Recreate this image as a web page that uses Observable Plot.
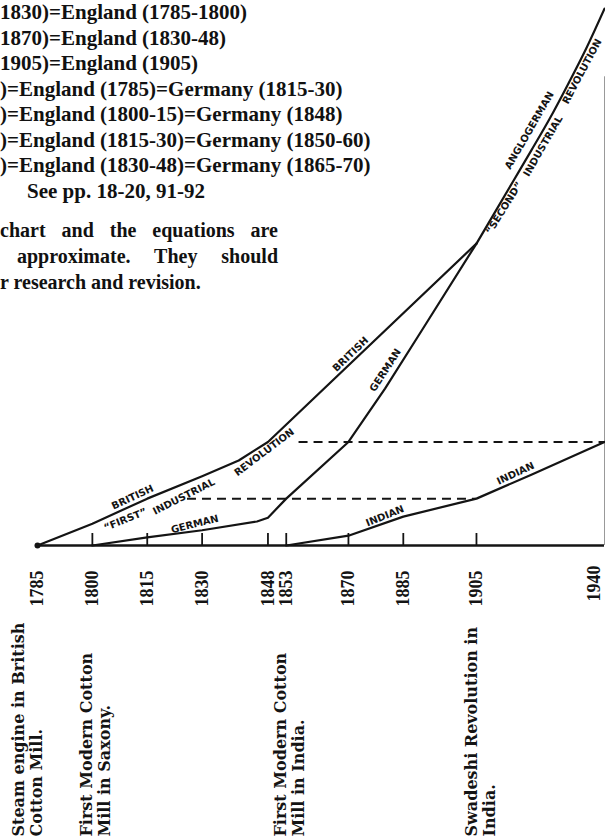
<!DOCTYPE html>
<html>
<head>
<meta charset="utf-8">
<script src="https://cdn.jsdelivr.net/npm/d3@7"></script>
<script src="https://cdn.jsdelivr.net/npm/@observablehq/plot@0.6"></script>
<style>
  html,body{margin:0;padding:0;background:#fff;}
  #wrap{position:relative;width:605px;height:840px;overflow:hidden;background:#fff;}
  #wrap svg{position:absolute;left:0;top:0;}
  .t{position:absolute;white-space:pre;font-family:"Liberation Serif",serif;font-weight:bold;font-size:21px;color:#111;line-height:21px;}
  .j{text-align:justify;text-align-last:justify;white-space:normal;}
  g[aria-label="line-label"] text{letter-spacing:1px;}
</style>
</head>
<body>
<div id="wrap"></div>
<script>
// ---------- data ----------
const tickYears = [1785, 1800, 1815, 1830, 1848, 1853, 1870, 1885, 1905, 1940];

const britishYears = [1785, 1800, 1815, 1830, 1840, 1848, 1905];
const britishLevel = [0, 4.0, 8.6, 12.7, 15.6, 19.0, 55.4];

const germanYears = [1800, 1815, 1830, 1845, 1848, 1853, 1870, 1880, 1890, 1905];
const germanLevel = [0, 1.5, 2.8, 4.4, 5.1, 8.6, 19.0, 28.8, 39.4, 55.4];

const angloGermanYears = [1905, 1915, 1920, 1925, 1930, 1935, 1940];
const angloGermanLevel = [55.4, 66.8, 72.5, 78.3, 84.6, 91.2, 98.5];

const indianYears = [1853, 1870, 1885, 1905, 1920, 1940];
const indianLevel = [0, 1.8, 5.3, 8.6, 13.0, 19.0];

// equal-level guides: [from year, to year, level]
const guideFrom = [1856.5, 1826];
const guideTo = [1940, 1905];
const guideLevel = [19.0, 8.6];

const equations = [
  "1830)=England (1785-1800)",
  "1870)=England (1830-48)",
  "1905)=England (1905)",
  ")=England (1785)=Germany (1815-30)",
  ")=England (1800-15)=Germany (1848)",
  ")=England (1815-30)=Germany (1850-60)",
  ")=England (1830-48)=Germany (1865-70)",
  "See pp. 18-20, 91-92"
];
const note = [
  "chart and the equations are",
  "approximate. They should",
  "r research and revision."
];

const eventYears = [1785, 1800, 1853, 1905];
const eventLine1 = ["Steam engine in British", "First Modern Cotton", "First Modern Cotton", "Swadeshi Revolution in"];
const eventLine2 = ["Cotton Mill.", "Mill in Saxony.", "Mill in India.", "India."];

// ---------- build ----------
const toRows = (ys, vs) => ys.map((y, i) => ({year: y, level: vs[i]}));
const british = toRows(britishYears, britishLevel);
const german = toRows(germanYears, germanLevel);
const anglo = toRows(angloGermanYears, angloGermanLevel);
const indian = toRows(indianYears, indianLevel);
const guides = guideFrom.map((f, i) => ({from: f, to: guideTo[i], level: guideLevel[i]}));
const events = eventYears.map((y, i) => ({year: y, l1: eventLine1[i], l2: eventLine2[i]}));

const at = (ys, vs, yr) => d3.scaleLinear().domain(ys).range(vs)(yr);

const ink = "#141414";
function lbl(text, ys, vs, yr, dx, dy, rotate) {
  return Plot.text([{year: yr, level: at(ys, vs, yr), text}], {
    x: "year", y: "level", text: "text", dx, dy, rotate,
    fontFamily: "DejaVu Sans", fontWeight: "bold", fontSize: 10, fill: ink,
    ariaLabel: "line-label"
  });
}

const yearFont = {fontFamily: "Liberation Serif", fontWeight: "bold", fontSize: 18, fill: ink};
const evFont = {fontFamily: "DejaVu Serif", fontWeight: "bold", fontSize: 16, fill: ink};

const chart = Plot.plot({
  width: 605, height: 840,
  marginLeft: 37, marginRight: 1, marginTop: 0, marginBottom: 295,
  x: {domain: [1785, 1940], axis: null},
  y: {domain: [0, 100], axis: null},
  style: {background: "transparent", overflow: "visible"},
  marks: [
    Plot.ruleX([1940], {y1: 0, y2: 86, stroke: "#999", strokeWidth: 1}),
    Plot.ruleY(guides, {y: "level", x1: "from", x2: "to", stroke: ink, strokeWidth: 2, strokeDasharray: "9,6"}),
    Plot.ruleX(tickYears.filter(d => d > 1785 && d < 1940), {x: d => d, y1: 0, y2: 2.2, stroke: ink, strokeWidth: 1.8}),
    Plot.ruleY([0], {stroke: ink, strokeWidth: 2.6}),
    Plot.line(british, {x: "year", y: "level", stroke: ink, strokeWidth: 2.2}),
    Plot.line(german, {x: "year", y: "level", stroke: ink, strokeWidth: 2.2}),
    Plot.line(anglo, {x: "year", y: "level", stroke: ink, strokeWidth: 2.2, curve: "monotone-x"}),
    Plot.line(indian, {x: "year", y: "level", stroke: ink, strokeWidth: 2.2}),
    Plot.dot([british[0]], {x: "year", y: "level", r: 3, fill: ink}),

    // year labels
    Plot.text(tickYears.filter(d => d < 1940), {x: d => d, y: () => 0, text: d => String(d), rotate: -90, textAnchor: "end", dy: 25, ...yearFont}),
    Plot.text(tickYears.filter(d => d === 1940), {x: d => d, y: () => 0, text: d => String(d), rotate: -90, textAnchor: "end", dy: 20, dx: -10, ...yearFont}),

    // event notes
    Plot.text(events.filter(d => d.year !== 1785), {x: "year", y: () => 0, text: "l1", rotate: -90, textAnchor: "start", dy: 291, dx: -5, ...evFont}),
    Plot.text(events.filter(d => d.year !== 1785), {x: "year", y: () => 0, text: "l2", rotate: -90, textAnchor: "start", dy: 291, dx: 13, ...evFont}),
    Plot.text(events.filter(d => d.year === 1785), {x: "year", y: () => 0, text: "l1", rotate: -90, textAnchor: "start", dy: 291, dx: -19, ...evFont}),
    Plot.text(events.filter(d => d.year === 1785), {x: "year", y: () => 0, text: "l2", rotate: -90, textAnchor: "start", dy: 291, dx: -1, ...evFont}),

    // line labels
    lbl("BRITISH", britishYears, britishLevel, 1811, 0, -8, -25),
    lbl("\u201CFIRST\u201D", britishYears, britishLevel, 1809, 0, 11, -22),
    lbl("INDUSTRIAL", britishYears, britishLevel, 1825, 0, 13, -27),
    lbl("REVOLUTION", britishYears, britishLevel, 1847, 0, 8, -37),
    lbl("GERMAN", germanYears, germanLevel, 1828, 0, -7, -14),
    lbl("BRITISH", britishYears, britishLevel, 1870.6, 0, -9, -44),
    lbl("GERMAN", germanYears, germanLevel, 1882.3, -8, -5, -57),
    lbl("INDIAN", indianYears, indianLevel, 1880, 0, -7, -22),
    lbl("INDIAN", indianYears, indianLevel, 1915.7, 0, -8, -25),
    lbl("ANGLOGERMAN", angloGermanYears, angloGermanLevel, 1922.2, -10, -6, -60),
    lbl("\u201CSECOND\u201D", angloGermanYears, angloGermanLevel, 1911.2, 5, 3, -58),
    lbl("INDUSTRIAL", angloGermanYears, angloGermanLevel, 1921.3, 7, 4, -60),
    lbl("REVOLUTION", angloGermanYears, angloGermanLevel, 1932.5, 5, 5, -62)
  ]
});

const wrap = document.getElementById("wrap");
wrap.appendChild(chart);

// header text
const eqCenters = [13, 38.5, 64, 89.5, 115, 140.5, 166, 191.5];
const eqLeft = [0, 0, 0, 0, 0, 0, 0, 27];
equations.forEach((s, i) => {
  const d = document.createElement("div");
  d.className = "t";
  d.textContent = s;
  d.style.left = eqLeft[i] + "px";
  d.style.top = (eqCenters[i] - 10.7) + "px";
  wrap.appendChild(d);
});
const noteCenters = [230, 256, 282];
const noteLeft = [0, 17, 0];
const noteWidth = [278, 261, null];
note.forEach((s, i) => {
  const d = document.createElement("div");
  d.className = "t" + (noteWidth[i] ? " j" : "");
  d.style.fontSize = "20px";
  d.textContent = s;
  d.style.left = noteLeft[i] + "px";
  if (noteWidth[i]) d.style.width = noteWidth[i] + "px";
  d.style.top = (noteCenters[i] - 10.5) + "px";
  wrap.appendChild(d);
});
</script>
</body>
</html>
